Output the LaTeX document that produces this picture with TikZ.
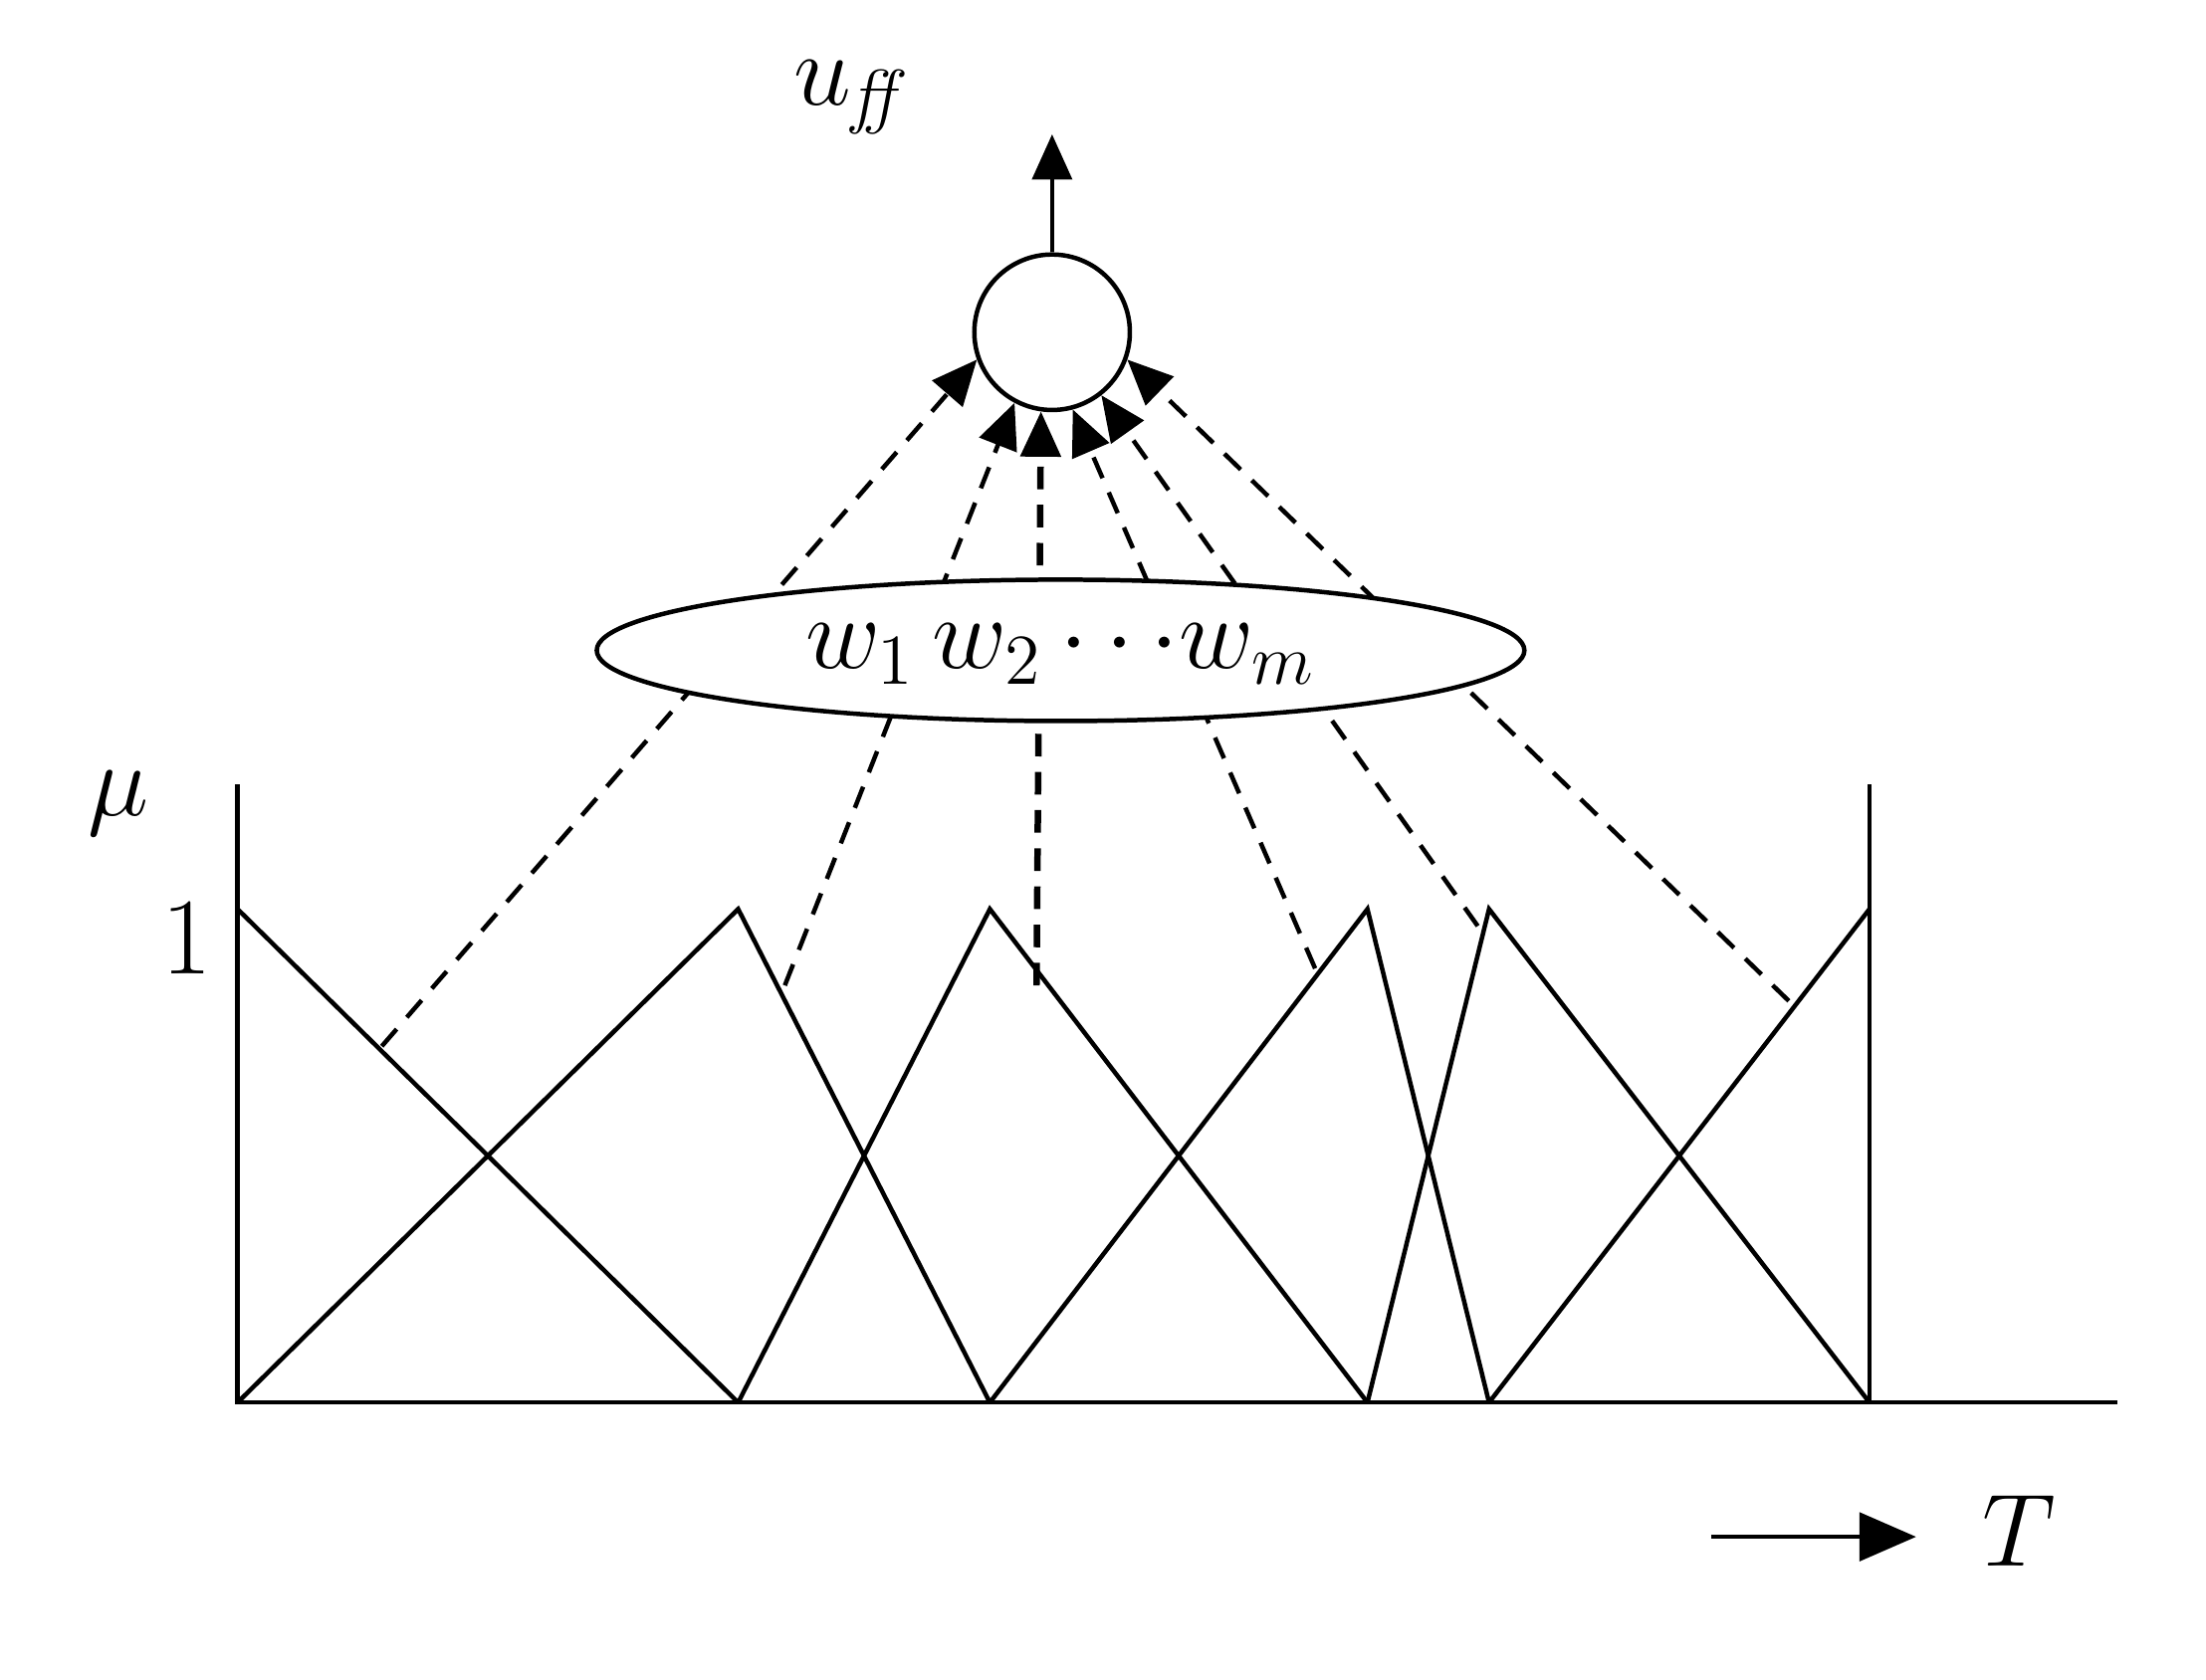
\documentclass[tikz,border=0pt]{standalone}
\usetikzlibrary{arrows.meta}
\begin{document}
\begin{tikzpicture}[x=0.1mm,y=-0.1mm,line width=0.9pt,
  tri/.style={line join=miter},
  dsh/.style={dash pattern=on 1.6mm off 1.1mm,-{Triangle[length=3.2mm,width=2.8mm]}},
  lbl/.style={font=\fontsize{22}{24}\selectfont}]
\useasboundingbox (0,0) rectangle (1560,1188);
% axes
\draw (168,555) -- (168,992) -- (1497,992);
\draw (1322,555) -- (1322,992);
% triangles
\draw[tri] (168,643) -- (522,992);
\draw[tri] (168,992) -- (522,643) -- (700,992);
\draw[tri] (522,992) -- (700,643) -- (967,992);
\draw[tri] (700,992) -- (967,643) -- (1053,992);
\draw[tri] (967,992) -- (1053,643) -- (1322,992);
\draw[tri] (1053,992) -- (1322,643);
\node[lbl] (one) at (132,663) {1};
\node[lbl] (mu) at (84,568) {$\mu$};
% neuron
\node[circle,draw,minimum size=11mm,inner sep=0pt] (c) at (744,235) {};
\coordinate (top) at (744,95);
\draw[-{Triangle[length=3.2mm,width=2.8mm]}] (c.north) -- (top);
\node[lbl,anchor=south west] (uff) at (548,108) {$u_{\mathit{ff}}$};
% dashed connectors
\coordinate (p1) at (270,740);
\coordinate (p2) at (555,697);
\coordinate (p3) at (733,697);
\coordinate (p4) at (930,685);
\coordinate (p5) at (1045,655);
\coordinate (p6) at (1265,708);
\draw[dsh] (p1) -- (c.200);
\draw[dsh] (p2) -- (c.242);
\draw[dsh,line width=1.3pt] (p3) -- (c.262);
\draw[dsh] (p4) -- (c.285);
\draw[dsh] (p5) -- (c.308);
\draw[dsh] (p6) -- (c.340);
% weights ellipse
\draw[fill=white] (750,460) ellipse [x radius=328, y radius=50];
\node[lbl] (w) at (750,462) {$w_1\,w_2\,{\cdots}w_m$};
% T arrow
\coordinate (ta) at (1210,1087);
\coordinate (tb) at (1355,1087);
\draw[-{Triangle[length=4mm,width=3.4mm]}] (ta) -- (tb);
\node[lbl] (T) at (1428,1083) {$T$};
\end{tikzpicture}
\end{document}
